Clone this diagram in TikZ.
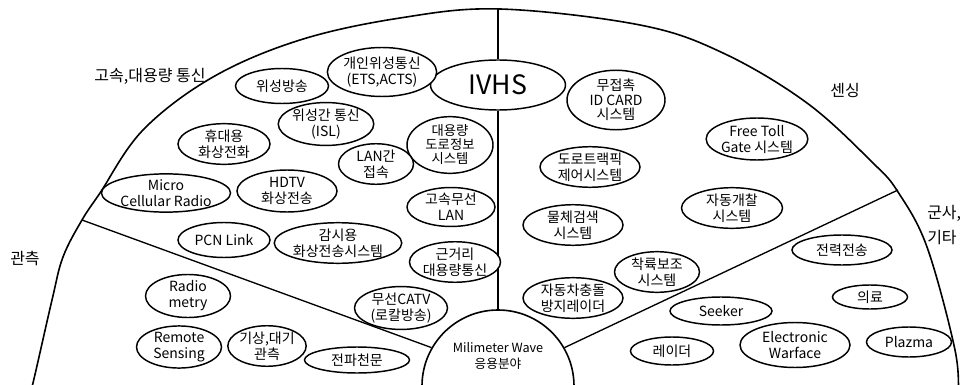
\documentclass[tikz,border=0pt]{standalone}
\usepackage{fontspec}
\setmainfont{Noto Sans CJK KR}
\usetikzlibrary{shapes.geometric}
\begin{document}
\begin{tikzpicture}[x=0.75pt,y=-0.75pt,
  oval/.style 2 args={ellipse, draw, fill=white, line width=1.1pt, inner sep=0pt,
    align=center, font=\fontsize{10.5}{12}\selectfont,
    minimum width=#1*0.75pt, minimum height=#2*0.75pt},
  cat/.style={inner sep=0pt, font=\fontsize{12}{14}\selectfont},
  rim/.style={line width=1.2pt, line join=round},
  divline/.style={line width=1pt}]
\useasboundingbox (0,0) rectangle (964,385);
\fill[white] (0,0) rectangle (964,385);
% outer arc
\begin{scope}
\clip (0,0) rectangle (964,385);
\draw[rim] plot[smooth, tension=0.6] coordinates {(29,395) (33,383) (52,300) (63,257) (82,220) (100,193) (143,130) (213,77) (300,40) (400,18) (500,9) (640,25) (723,53) (807,103) (873,163) (898,192) (927,247) (955,350) (958,395)};
\end{scope}
% centre semicircle
\node[circle, draw, line width=1.2pt, inner sep=0pt, minimum size=152*0.75pt] (mm) at (498,386) {};
\node[inner sep=0pt, align=center, font=\fontsize{9.5}{12}\selectfont] (mmtext) at (498,356) {Milimeter Wave\\응용분야};
% IVHS
\node[oval={135}{50}, font=\fontsize{20}{22}\selectfont] (ivhs) at (498,85) {IVHS};
% dividers
\coordinate (vtop) at (498,9);
\coordinate (ldiv) at (82,220);
\coordinate (rdiv) at (898,190);
\draw[divline] (vtop) -- (ivhs);
\draw[divline] (ivhs) -- (mm);
\draw[divline] (ldiv) -- (mm.150);
\draw[divline] (rdiv) -- (mm.30);
% category labels
\node[cat] (catcomm) at (150,76) {고속,대용량 통신};
\node[cat] (catsens) at (845,90) {센싱};
\node[cat] (catobs) at (25,258) {관측};
\node[cat, anchor=west, align=left, font=\fontsize{12}{19}\selectfont] (catmil) at (927,225) {군사,\\기타};
% ellipses
\node[oval={93}{35}] (sat) at (282,86) {위성방송};
\node[oval={101}{49}] (pers) at (382,72) {개인위성통신\\(ETS,ACTS)};
\node[oval={98}{48}, font=\fontsize{10.5}{11}\selectfont] (idcard) at (616,100) {무접촉\\ID CARD\\시스템};
\node[oval={92}{34}] (isl) at (326,124) {위성간 통신\\(ISL)};
\node[oval={92}{32}] (mobile) at (224,144) {휴대용\\화상전화};
\node[oval={86}{44}, font=\fontsize{10}{10.5}\selectfont] (roadinfo) at (450,145) {대용량\\도로정보\\시스템};
\node[oval={75}{35}] (lan) at (376,164) {LAN간\\접속};
\node[oval={100}{33}] (traffic) at (590,167) {도로트랙픽\\제어시스템};
\node[oval={100}{42}] (freetoll) at (757,139) {Free Toll\\Gate 시스템};
\node[oval={104}{33}] (micro) at (166,193) {Micro\\Cellular Radio};
\node[oval={100}{42}] (hdtv) at (287,191) {HDTV\\화상전송};
\node[oval={88}{38}] (hslan) at (451,207) {고속무선\\LAN};
\node[oval={100}{30}] (object) at (573,225) {물체검색\\시스템};
\node[oval={101}{33}] (autogate) at (732,208) {자동개찰\\시스템};
\node[oval={92}{35}] (pcn) at (224,240) {PCN Link};
\node[oval={120}{40}] (surv) at (338,243) {감시용\\화상전송시스템};
\node[oval={84}{35}] (short) at (455,262) {근거리\\대용량통신};
\node[oval={100}{30}] (power) at (842,250) {전력전송};
\node[oval={85}{37}] (landing) at (657,272) {착륙보조\\시스템};
\node[oval={85}{32}] (radiom) at (188,296) {Radio\\metry};
\node[oval={93}{37}] (catv) at (401,308) {무선CATV\\(로칼방송)};
\node[oval={100}{40}] (collision) at (573,298) {자동차충돌\\방지레이더};
\node[oval={75}{24}] (medical) at (870,297) {의료};
\node[oval={102}{28}] (seeker) at (721,311) {Seeker};
\node[oval={85}{33}] (remote) at (179,347) {Remote\\Sensing};
\node[oval={77}{35}] (weather) at (267,346) {기상,대기\\관측};
\node[oval={105}{26}] (radioastro) at (357,360) {전파천문};
\node[oval={110}{45}] (ew) at (795,345) {Electronic\\Warface};
\node[oval={85}{30}] (plazma) at (909,342) {Plazma};
\node[oval={83}{28}] (radar) at (672,351) {레이더};
\end{tikzpicture}
\end{document}
